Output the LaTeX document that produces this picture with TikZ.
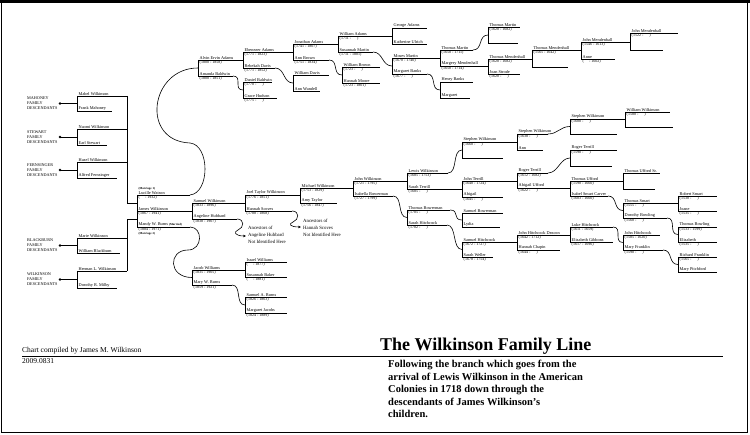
\documentclass[tikz,border=0pt]{standalone}
\usepackage{fontspec}
\setmainfont{Liberation Serif}
\usetikzlibrary{calc,arrows.meta}

\tikzset{
	pline/.style={line width=0.6pt},
	pname/.style={anchor=south west, inner sep=0.3pt, xshift=1.2pt, yshift=0.3pt, font=\fontsize{4.3}{5}\selectfont},
	pdate/.style={anchor=north west, inner sep=0.3pt, xshift=1.2pt, yshift=-0.4pt, font=\fontsize{4}{5}\selectfont},
	ptiny/.style={inner sep=0.2pt, font=\fontsize{3}{3.5}\selectfont\bfseries},
	grp/.style={anchor=west, align=left, inner sep=0pt, font=\fontsize{4.2}{5}\selectfont},
	anc/.style={anchor=north west, align=left, inner sep=0pt, font=\fontsize{4.8}{7}\selectfont},
	wig/.style={to path={.. controls +(10,0) and +(-10,0) .. (\tikztotarget)}},
}
% one person: line from x1 to x2 at y, name above, dates below
\def\pers(#1)(#2,#3,#4)#5#6{%
	\coordinate (#1w) at (#2,#4);
	\coordinate (#1e) at (#3,#4);
	\draw[pline] (#1w) -- (#1e);
	\node[pname] (#1) at (#1w) {#5};
	\node[pdate] (#1d) at (#1w) {#6};
}

\begin{document}
\begin{tikzpicture}[x=1pt,y=-1pt]
		%%%%% START %%%%%
		\useasboundingbox (0,0) rectangle (750,435);
		
		\draw[line width=1pt] (1,1) rectangle (747,433);
		\draw[line width=3pt] (0,1.5) -- (750,1.5);
		
		% descendants
		\pers(mabel)(77,127,96){Mabel Wilkinson}{}
		\pers(frank)(77,112,111){Frank Mahoney}{}
		\pers(naomi)(77,127,129){Naomi Wilkinson}{}
		\pers(earl)(77,107,145){Earl Stewart}{}
		\pers(hazel)(77,127,162){Hazel Wilkinson}{}
		\pers(alfred)(77,117,178){Alfred Fernsinger}{}
		\pers(marie)(77,127,238){Marie Wilkinson}{}
		\pers(wblack)(77,120,253){William Blackburn}{}
		\pers(herman)(77,127,271){Herman L. Wilkinson}{}
		\pers(dorothy)(77,117,288){Dorothy R. Milby}{}
		
		\node[grp] (mahoney) at (27,103.5) {MAHONEY\\FAMILY\\DESCENDANTS};
		\node[grp] (stewart) at (27,137) {STEWART\\FAMILY\\DESCENDANTS};
		\node[grp] (fernsinger) at (27,170) {FERNSINGER\\FAMILY\\DESCENDANTS};
		\node[grp] (blackburn) at (27,245.5) {BLACKBURN\\FAMILY\\DESCENDANTS};
		\node[grp] (wilkinson) at (27,279.5) {WILKINSON\\FAMILY\\DESCENDANTS};
		
		\fill (60,103.5) coordinate (dmah) circle (1.3);
		\fill (60,137) coordinate (dste) circle (1.3);
		\fill (60,170) coordinate (dfer) circle (1.3);
		\fill (60,245.5) coordinate (dbla) circle (1.3);
		\fill (60,279.5) coordinate (dwil) circle (1.3);
		\draw[pline] (dmah) -- ($(mabelw)!.5!(frankw)$);
		\draw[pline] (dste) -- ($(naomiw)!.5!(earlw)$);
		\draw[pline] (dfer) -- ($(hazelw)!.5!(alfredw)$);
		\draw[pline] (dbla) -- ($(mariew)!.5!(wblackw)$);
		\draw[pline] (dwil) -- ($(hermanw)!.5!(dorothyw)$);
		\draw[pline] (mabelw) -- (frankw);
		\draw[pline] (naomiw) -- (earlw);
		\draw[pline] (hazelw) -- (alfredw);
		\draw[pline] (mariew) -- (wblackw);
		\draw[pline] (hermanw) -- (dorothyw);
		
		% James and his wives
		\pers(lucille)(137,190,195){Lucille Watson}{(\quad\ - 1932)}
		\pers(james)(137,192,211){James Wilkinson}{(1867 - 1941)}
		\pers(mandy)(137,190,227){Mandy W. Burns {\fontsize{3}{3.5}\selectfont\bfseries(Married)}}{(1884 - 1971)}
		\node[ptiny, anchor=south west] (lucillet) at (lucille.north west) {(Marriage 1)};
		\node[ptiny, anchor=north west] (mandyt) at (mandyd.south west) {(Marriage 2)};
		\draw[pline] (lucillew) -- (mandyw);
		\draw[pline] (mabele) |- ($(lucillew)!.5!(jamesw)$);
		\draw[pline] (hermane) |- ($(jamesw)!.5!(mandyw)$);
		
		% Wilkinson line
		\pers(samuel)(192,245,203){Samuel Wilkinson}{(1833 - 1896)}
		\pers(angeline)(192,237,219){Angeline Hubbard}{(1838 - 1907)}
		\pers(joel)(245,300,195){Joel Taylor Wilkinson}{(1776 - 1851)}
		\pers(hannah)(245,292,211){Hannah Scoves}{(1788 - 1868)}
		\pers(michael)(300,353,188){Michael Wilkinson}{(1753 - 1829)}
		\pers(amy)(300,337,203){Amy Taylor}{(1756 - 1847)}
		\pers(john)(353,407,181){John Wilkinson}{(1721 - 1795)}
		\pers(isabella)(353,393,196){Isabella Bowerman}{(1727 - 1799)}
		\pers(lewis)(407,448,173){Lewis Wilkinson}{(1685 - 1753)}
		\pers(sarah)(407,462,189){Sarah Terrill}{(1685 - \quad\ )}
		\pers(thomasb)(407,450,210){Thomas Bowerman}{(1705 - \quad\ )}
		\pers(sarahh)(407,447,225){Sarah Hitchcock}{(1702 - \quad\ )}
		\draw[pline] (samuelw) -- (angelinew);
		\draw[pline] (joelw) -- (hannahw);
		\draw[pline] (michaelw) -- (amyw);
		\draw[pline] (johnw) -- (isabellaw);
		\draw[pline] (lewisw) -- (sarahw);
		\draw[pline] (thomasbw) -- (sarahhw);
		\draw[pline] (isabellae) to[wig] ($(thomasbw)!.5!(sarahhw)$);
		
		\coordinate (angarr) at (246,236);
		\coordinate (hanarr) at (301,227);
		\draw[pline,-{Stealth[length=3pt,width=2.6pt]}] (angelinee) .. controls (245,219) and (244,228) .. (238,230) .. controls (233,232) and (235,236) .. (angarr);
		\draw[pline,-{Stealth[length=3pt,width=2.6pt]}] (hannahe) .. controls (300,211) and (299,220) .. (293,222) .. controls (288,224) and (290,227) .. (hanarr);
		\node[anc] (ancang) at (248,226) {Ancestors of\\Angeline Hubbard\\Not Identified Here};
		\node[anc] (anchan) at (303,219) {Ancestors of\\Hannah Scoves\\Not Identified Here};
		
		% Stephen Wilkinson branch
		\pers(steph3)(462,517,142){Stephen Wilkinson}{(1660 - \quad\ )}
		\pers(steph3x)(462,503,158){}{}
		\pers(steph2)(517,548,134){Stephen Wilkinson}{(1638 - \quad\ )}
		\pers(ann)(517,543,150){Ann}{}
		\pers(steph1)(570,625,119){Stephen Wilkinson}{(1600 - \quad\ )}
		\pers(steph1x)(570,617,134){}{}
		\pers(william)(625,670,112){William Wilkinson}{(1580 - \quad\ )}
		\pers(williamx)(625,673,127){}{}
		\draw[pline] (steph3w) -- (steph3xw);
		\draw[pline] (steph2w) -- (annw);
		\draw[pline] (steph1w) -- (steph1xw);
		\draw[pline] (williamw) -- (williamxw);
		\draw[pline] (lewise) to[wig] ($(steph3w)!.5!(steph3xw)$);
		\draw[pline] (steph2e) to[wig] ($(steph1w)!.5!(steph1xw)$);
		
		% Terrill and Ufford branch
		\pers(johnt)(462,517,181){John Terrill}{(1640 - 1724)}
		\pers(abig)(462,503,197){Abigail}{(1645 - \quad\ )}
		\pers(roger)(517,548,173){Roger Terrill}{(1612 - 1682)}
		\pers(abigu)(517,570,188){Abigail Ufford}{(1622 - \quad\ )}
		\pers(rogerf)(570,617,150){Roger Terrill}{(1590 - \quad\ )}
		\pers(rogerfx)(570,612,166){}{}
		\pers(thomasu)(570,623,181){Thomas Ufford}{(1590 - 1660)}
		\pers(isabel)(570,608,196){Isabel Smart Carver}{(1603 - 1660)}
		\pers(thomasus)(623,660,173){Thomas Ufford Sr.}{}
		\pers(thomasusx)(623,655,189){}{}
		\pers(thomass)(623,678,203){Thomas Smart}{(1555 - \quad\ )}
		\pers(dorob)(623,667,218){Dorothy Bowling}{(1560 - \quad\ )}
		\pers(robert)(678,717,196){Robert Smart}{(1530 - \quad\ )}
		\pers(joane)(678,717,211){Joane}{(1535 - \quad\ )}
		\pers(thomasbo)(678,717,227){Thomas Bowling}{(1533 - 1599)}
		\pers(eliz)(678,717,242){Elizabeth}{(1535 - \quad\ )}
		\draw[pline] (johntw) -- (abigw);
		\draw[pline] (rogerw) -- (abiguw);
		\draw[pline] (rogerfw) -- (rogerfxw);
		\draw[pline] (thomasuw) -- (isabelw);
		\draw[pline] (thomasusw) -- (thomasusxw);
		\draw[pline] (thomassw) -- (dorobw);
		\draw[pline] (robertw) -- (joanew);
		\draw[pline] (thomasbow) -- (elizw);
		\draw[pline] (rogere) to[wig] ($(rogerfw)!.5!(rogerfxw)$);
		\draw[pline] (isabele) to[wig] ($(thomassw)!.5!(dorobw)$);
		\draw[pline] (dorobe) to[wig] ($(thomasbow)!.5!(elizw)$);
		
		% Bowerman and Hitchcock branch
		\pers(samuelb)(462,503,213){Samuel Bowerman}{}
		\pers(lydia)(462,500,227){Lydia}{}
		\pers(samuelh)(462,517,242){Samuel Hitchcock}{(1672 - 1727)}
		\pers(sweller)(462,493,257){Sarah Weller}{(1678 - 1754)}
		\pers(johnh)(517,570,235){John Hitchcock Deacon}{(1642 - 1712)}
		\pers(hannahc)(517,560,250){Hannah Chapin}{(1644 - \quad\ )}
		\pers(luke)(570,613,227){Luke Hitchcock}{(1611 - 1659)}
		\pers(elizg)(570,613,242){Elizabeth Gibbons}{(1617 - 1696)}
		\pers(johnhh)(623,660,235){John Hitchcock}{(1585 - 1620)}
		\pers(maryf)(623,663,250){Mary Franklin}{(1590 - \quad\ )}
		\pers(richard)(678,717,257){Richard Franklin}{(1565 - \quad\ )}
		\pers(maryp)(678,717,272){Mary Pitchford}{}
		\draw[pline] (samuelbw) -- (lydiaw);
		\draw[pline] (samuelhw) -- (swellerw);
		\draw[pline] (johnhw) -- (hannahcw);
		\draw[pline] (lukew) -- (elizgw);
		\draw[pline] (johnhhw) -- (maryfw);
		\draw[pline] (richardw) -- (marypw);
		\draw[pline] (thomasbe) to[wig] ($(samuelbw)!.5!(lydiaw)$);
		\draw[pline] (sarahhe) to[wig] ($(samuelhw)!.5!(swellerw)$);
		\draw[pline] (lukee) to[wig] ($(johnhhw)!.5!(maryfw)$);
		\draw[pline] (maryfe) to[wig] ($(richardw)!.5!(marypw)$);
		
		% Adams line
		\pers(alvin)(198,243,60){Alvin Ervin Adams}{(1800 - 1858)}
		\pers(amanda)(198,233,76){Amanda Baldwin}{(1800 - 1851)}
		\pers(ebenezer)(243,293,52){Ebenezer Adams}{(1771 - 1823)}
		\pers(rebekah)(243,275,68){Rebekah Davis}{(1771 - 1852)}
		\pers(daniel)(243,272,82){Daniel Baldwin}{(1770 - \quad\ )}
		\pers(grace)(243,277,98){Grace Hudson}{(1775 - \quad\ )}
		\pers(jonathan)(293,338,44){Jonathan Adams}{(1741 - 1807)}
		\pers(annb)(293,329,60){Ann Brown}{(1751 - 1834)}
		\pers(williamd)(293,329,75){William Davis}{}
		\pers(annwand)(293,320,91){Ann Wandell}{}
		\pers(williama)(338,392,36){William Adams}{(1711 - \quad\ )}
		\pers(susannah)(338,373,52){Susannah Martin}{(1711 - 1801)}
		\pers(wbrown)(342,380,67){William Brown}{(1723 - \quad\ )}
		\pers(hannahm)(342,380,83){Hannah Moore}{(1723 - 1801)}
		\pers(george)(392,427,28){George Adams}{}
		\pers(kath)(392,427,44){Katherine Ulrich}{}
		\pers(moses)(392,440,58){Moses Martin}{(1670 - 1740)}
		\pers(margb)(392,427,74){Margaret Banks}{(1677 - \quad\ )}
		\pers(thomasm)(440,473,50){Thomas Martin}{(1650 - 1711)}
		\pers(margery)(440,488,66){Margery Mendenhall}{(1650 - 1714)}
		\pers(henry)(440,473,82){Henry Banks}{}
		\pers(marg)(440,470,98){Margaret}{}
		\pers(thomasmm)(488,520,27){Thomas Martin}{(1620 - 1682)}
		\pers(thomasmmx)(488,518,43){}{}
		\pers(tmend)(488,532,59){Thomas Mendenhall}{(1620 - 1682)}
		\pers(joan)(488,520,74){Joan Strode}{(1620 - \quad\ )}
		\pers(tmendf)(532,581,50){Thomas Mendenhall}{(1565 - 1642)}
		\pers(tmendfx)(532,568,67){}{}
		\pers(johnm)(581,630,42){John Mendenhall}{(1546 - 1613)}
		\pers(anne)(581,615,59){Anne}{(\quad\ - 1602)}
		\pers(johnmm)(630,678,33){John Mendenhall}{(1522 - \quad\ )}
		\pers(johnmmx)(630,663,50){}{}
		\draw[pline] (alvinw) -- (amandaw);
		\draw[pline] (ebenezerw) -- (rebekahw);
		\draw[pline] (danielw) -- (gracew);
		\draw[pline] (jonathanw) -- (annbw);
		\draw[pline] (williamdw) -- (annwandw);
		\draw[pline] (williamaw) -- (susannahw);
		\draw[pline] (wbrownw) -- (hannahmw);
		\draw[pline] (georgew) -- (kathw);
		\draw[pline] (mosesw) -- (margbw);
		\draw[pline] (thomasmw) -- (margeryw);
		\draw[pline] (henryw) -- (margw);
		\draw[pline] (thomasmmw) -- (thomasmmxw);
		\draw[pline] (tmendw) -- (joanw);
		\draw[pline] (tmendfw) -- (tmendfxw);
		\draw[pline] (johnmw) -- (annew);
		\draw[pline] (johnmmw) -- (johnmmxw);
		\draw[pline] (amandae) to[wig] ($(danielw)!.5!(gracew)$);
		\draw[pline] (rebekahe) to[wig] ($(williamdw)!.5!(annwandw)$);
		\draw[pline] (annbe) to[wig] ($(wbrownw)!.5!(hannahmw)$);
		\draw[pline] (susannahe) to[wig] ($(mosesw)!.5!(margbw)$);
		\draw[pline] (margbe) to[wig] ($(henryw)!.5!(margw)$);
		\draw[pline] (thomasme) to[wig] ($(thomasmmw)!.5!(thomasmmxw)$);
		
		\draw[pline] (lucillee) .. controls (210,193) and (210,145) .. (190,143) .. controls (140,141) and (150,68) .. ($(alvinw)!.5!(amandaw)$);
		
		% Williams and Burns
		\pers(jacob)(192,245,270){Jacob Williams}{(1835 - 1905)}
		\pers(maryb)(192,232,285){Mary W. Burns}{(1859 - 1921)}
		\pers(israel)(245,287,262){Israel Williams}{(\quad\ - 1877)}
		\pers(susb)(245,287,277){Susannah Baker}{(\quad\ - 1881)}
		\pers(samab)(245,287,297){Samuel A. Burns}{(1826 - 1863)}
		\pers(margj)(245,287,313){Margaret Jacobs}{(1824 - 1889)}
		\draw[pline] (jacobw) -- (marybw);
		\draw[pline] (israelw) -- (susbw);
		\draw[pline] (samabw) -- (margjw);
		\draw[pline] (mandye) .. controls (203,227) and (203,250) .. (188,250) .. controls (168,250) and (168,277.5) .. ($(jacobw)!.5!(marybw)$);
		\draw[pline] (marybe) to[wig] ($(samabw)!.5!(margjw)$);
		
		% title block
		\node[anchor=base west, inner sep=0pt, font=\fontsize{18}{20}\selectfont\bfseries] (title) at (380,351) {The Wilkinson Family Line};
		\coordinate (rulew) at (22,356);
		\coordinate (rulee) at (723,356);
		\draw[line width=0.9pt] (rulew) -- (rulee);
		\node[anchor=base west, inner sep=0pt, font=\fontsize{7.5}{9}\selectfont] (compiled) at (22,353) {Chart compiled by James M. Wilkinson};
		\node[anchor=base west, inner sep=0pt, font=\fontsize{7.5}{9}\selectfont] (stamp) at (22,364) {2009.0831};
		\node[anchor=north west, align=left, inner sep=0pt, font=\fontsize{10.5}{12.5}\selectfont\bfseries] (desc) at (388,360) {Following the branch which goes from the\\arrival of Lewis Wilkinson in the American\\Colonies in 1718 down through the\\descendants of James Wilkinson’s\\children.};
		
		%%%%% END %%%%%
\end{tikzpicture}
\end{document}
